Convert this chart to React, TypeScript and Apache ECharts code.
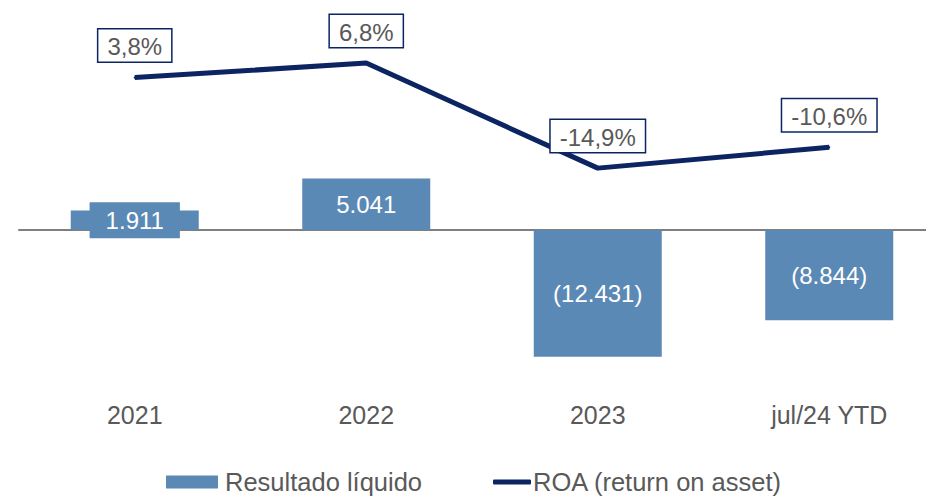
import React, { useEffect, useRef } from "react";
import * as echarts from "echarts";

const categories = ["2021", "2022", "2023", "jul/24 YTD"];
const resultadoLiquido = [1911, 5041, -12431, -8844];
const roa = [3.8, 6.8, -14.9, -10.6];

const BAR_COLOR = "#5b89b5";
const LINE_COLOR = "#0c2461";
const TEXT_COLOR = "#595959";
const FONT = "Liberation Sans, Arial, Helvetica, sans-serif";

// layout helpers (pixel geometry of the plot)
const CHART_W = 945; // plot area continues past the right edge of the 926px page
const GRID_TOP = 10;
const GRID_BOTTOM_Y = 390;
const BAR_ZERO_Y = 230;
const BAR_PX_PER_UNIT = 10.2 / 1000;
const LINE_ZERO_Y = 96;
const LINE_PX_PER_UNIT = 4.84;

const barMax = (BAR_ZERO_Y - GRID_TOP) / BAR_PX_PER_UNIT;
const barMin = -(GRID_BOTTOM_Y - BAR_ZERO_Y) / BAR_PX_PER_UNIT;
const lineMax = (LINE_ZERO_Y - GRID_TOP) / LINE_PX_PER_UNIT;
const lineMin = -(GRID_BOTTOM_Y - LINE_ZERO_Y) / LINE_PX_PER_UNIT;

function fmtThousands(v: number): string {
  const s = Math.round(Math.abs(v)).toString().replace(/\B(?=(\d{3})+(?!\d))/g, ".");
  return v < 0 ? `(${s})` : s;
}

export default function App() {
  const ref = useRef<HTMLDivElement>(null);
  useEffect(() => {
    if (!ref.current) return;
    const chart = echarts.init(ref.current, undefined, { renderer: "svg" });
    chart.setOption({
      animation: false,
      textStyle: { fontFamily: FONT },
      grid: { left: 19, right: 0, top: GRID_TOP, height: GRID_BOTTOM_Y - GRID_TOP },
      legend: [
        {
          data: ["Resultado líquido"],
          left: 166,
          top: 469,
          padding: 0,
          itemWidth: 52,
          itemHeight: 13,
          itemGap: 0,
          icon: "rect",
          textStyle: { fontSize: 25.5, lineHeight: 24, color: TEXT_COLOR, fontFamily: FONT, padding: [0, 0, 0, 2] },
        },
        {
          data: ["ROA (return on asset)"],
          left: 493,
          top: 469,
          padding: 0,
          itemWidth: 38,
          itemHeight: 5,
          itemGap: 0,
          icon: "roundRect",
          textStyle: { fontSize: 25.5, lineHeight: 24, color: TEXT_COLOR, fontFamily: FONT, padding: [0, 0, 0, -3] },
        },
      ],
      xAxis: [
        {
          type: "category",
          data: categories,
          position: "bottom",
          axisLine: { show: false, onZero: false },
          axisTick: { show: false },
          axisLabel: { fontSize: 25, color: TEXT_COLOR, margin: 12, fontFamily: FONT },
        },
        {
          type: "category",
          data: categories,
          axisLine: { show: true, onZero: true, onZeroAxisIndex: 0, lineStyle: { color: "#7f7f7f", width: 2 } },
          axisTick: { show: false },
          axisLabel: { show: false },
        },
      ],
      yAxis: [
        { type: "value", min: barMin, max: barMax, show: false, splitLine: { show: false } },
        { type: "value", min: lineMin, max: lineMax, show: false, splitLine: { show: false } },
      ],
      series: [
        {
          name: "Resultado líquido",
          type: "bar",
          xAxisIndex: 0,
          yAxisIndex: 0,
          barWidth: 128,
          itemStyle: { color: BAR_COLOR },
          data: resultadoLiquido.map((v, i) =>
            i === 0
              ? {
                  value: v,
                  label: {
                    backgroundColor: BAR_COLOR,
                    padding: [6, 16, 6, 16],
                  },
                }
              : v
          ),
          label: {
            show: true,
            position: "inside",
            color: "#ffffff",
            fontSize: 24,
            fontFamily: FONT,
            formatter: (p: any) => fmtThousands(p.value),
          },
        },
        {
          name: "ROA (return on asset)",
          type: "line",
          xAxisIndex: 0,
          yAxisIndex: 1,
          data: roa,
          symbol: "circle",
          symbolSize: 2,
          itemStyle: { color: LINE_COLOR },
          lineStyle: { color: LINE_COLOR, width: 5 },
          label: {
            show: true,
            position: "top",
            distance: 15,
            color: TEXT_COLOR,
            fontSize: 24,
            fontFamily: FONT,
            backgroundColor: "#ffffff",
            borderColor: LINE_COLOR,
            borderWidth: 1.5,
            padding: [5, 9, 3, 9],
            formatter: (p: any) => `${Number(p.value).toFixed(1).replace(".", ",")}%`,
          },
          z: 5,
        },
      ],
    });
    return () => chart.dispose();
  }, []);
  return (
    <div style={{ position: "fixed", left: 0, top: 0, width: 926, height: 496, overflow: "hidden", background: "#ffffff" }}>
      <div ref={ref} style={{ width: CHART_W, height: 496 }} />
    </div>
  );
}
